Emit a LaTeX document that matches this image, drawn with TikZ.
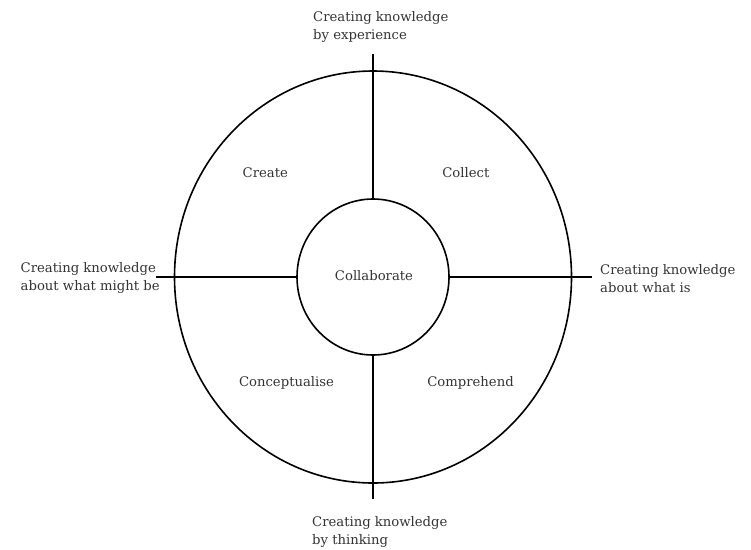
\documentclass[tikz,border=0pt]{standalone}
\usepackage{fontspec}
\setmainfont{DejaVu Serif}
\usetikzlibrary{shapes.geometric}
\begin{document}
\begin{tikzpicture}[x=1pt,y=-1pt,
  ring/.style={draw, line width=1.6pt},
  axis/.style={draw, line width=1.6pt},
  lbl/.style={font=\fontsize{13.2}{17.8}\selectfont, text=black!80, inner sep=0pt},
  quad/.style={lbl, anchor=base},
  pole/.style={lbl, align=left, anchor=base west}]
  \useasboundingbox (0,0) rectangle (751,549);
  % outer ring
  \node[ring, ellipse, minimum width=397pt, minimum height=412pt, inner sep=0pt] (outer) at (373,277) {};
  % inner circle
  \node[ring, ellipse, minimum width=152pt, minimum height=156pt, inner sep=0pt] (core) at (373,277) {};
  \node[quad] (collab) at (374,280.5) {Collaborate};
  % axis end points
  \coordinate (n) at (373,54);
  \coordinate (s) at (373,499);
  \coordinate (w) at (156,277);
  \coordinate (e) at (592,277);
  \draw[axis] (n) -- (core.north);
  \draw[axis] (core.south) -- (s);
  \draw[axis] (w) -- (core.west);
  \draw[axis] (core.east) -- (e);
  % quadrant labels
  \node[quad] (q1) at (265.3,177.8) {Create};
  \node[quad] (q2) at (465.8,177.3) {Collect};
  \node[quad] (q3) at (286.5,386.7) {Conceptualise};
  \node[quad] (q4) at (470.5,386.7) {Comprehend};
  % pole labels (anchored at the baseline of the last line)
  \node[pole] (pn) at (313,39) {Creating knowledge\\by experience};
  \node[pole] (ps) at (312,544) {Creating knowledge\\by thinking};
  \node[pole] (pw) at (20.5,290.5) {Creating knowledge\\about what might be};
  \node[pole] (pe) at (600,292) {Creating knowledge\\about what is};
\end{tikzpicture}
\end{document}
